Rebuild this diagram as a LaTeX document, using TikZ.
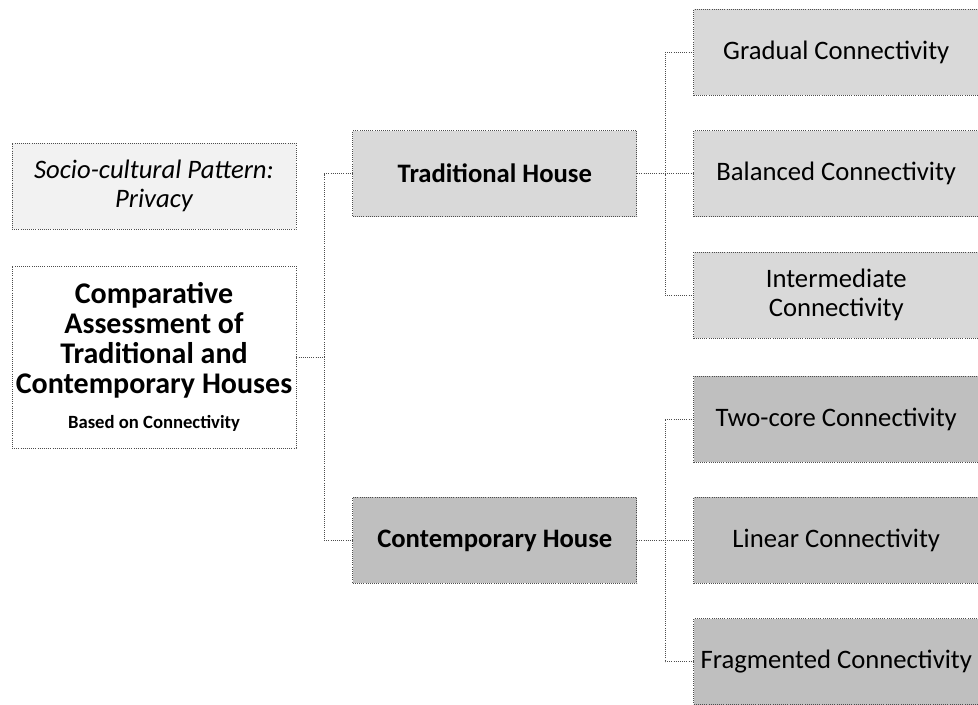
\documentclass[tikz,border=0pt]{standalone}
\usepackage{fontspec}
\setmainfont{Carlito}
\usetikzlibrary{positioning,calc}
\definecolor{boxpale}{HTML}{F2F2F2}
\definecolor{boxlight}{HTML}{D9D9D9}
\definecolor{boxdark}{HTML}{BFBFBF}
\definecolor{edgeink}{HTML}{4D4D4D}

\begin{document}
\begin{tikzpicture}[
  x=0.75pt,y=-0.75pt,
  font=\fontsize{20}{22}\selectfont,
  box/.style={draw=edgeink,densely dotted,line width=0.6pt,align=center,
              minimum width=213pt,minimum height=64.5pt,inner sep=2pt,text=black},
  note/.style={box,fill=boxpale,font=\fontsize{20}{22}\selectfont\itshape},
  root/.style={box,fill=white,minimum height=136.5pt,
               font=\fontsize{22.5}{22.5}\selectfont\bfseries},
  house/.style={box,font=\fontsize{20}{22}\selectfont\bfseries},
  tradleaf/.style={box,fill=boxlight,minimum width=214pt},
  contleaf/.style={box,fill=boxdark,minimum width=214pt},
  link/.style={draw=edgeink,densely dotted,line width=0.6pt},
]
  \useasboundingbox (0,0) rectangle (978,704);

  \node[root] (cmp) at (154,357) {Comparative\\Assessment of\\Traditional and\\
    Contemporary Houses\\[4pt]{\fontsize{14}{16}\selectfont Based on Connectivity}};
  \node[note,above=27pt of cmp] (socio) {Socio-cultural Pattern:\\Privacy};

  \node[house,fill=boxlight,above right=105pt and 42pt of cmp.east] (trad) {Traditional House};
  \node[house,fill=boxdark,below right=105pt and 42pt of cmp.east] (cont) {Contemporary House};

  \node[tradleaf,right=42pt of trad] (bal) {Balanced Connectivity};
  \node[tradleaf,above=26pt of bal] (grad) {Gradual Connectivity};
  \node[tradleaf,below=26pt of bal] (inter) {Intermediate\\Connectivity};

  \node[contleaf,right=42pt of cont] (lin) {Linear Connectivity};
  \node[contleaf,above=26pt of lin] (two) {Two-core Connectivity};
  \node[contleaf,below=26pt of lin] (frag) {Fragmented Connectivity};

  % elbow connectors
  \draw[link] (cmp.east) -- ++(21pt,0) |- (trad.west);
  \draw[link] (cmp.east) -- ++(21pt,0) |- (cont.west);
  \foreach \leaf in {grad,bal,inter}
    \draw[link] (trad.east) -- ++(21pt,0) |- (\leaf.west);
  \foreach \leaf in {two,lin,frag}
    \draw[link] (cont.east) -- ++(21pt,0) |- (\leaf.west);
\end{tikzpicture}
\end{document}
